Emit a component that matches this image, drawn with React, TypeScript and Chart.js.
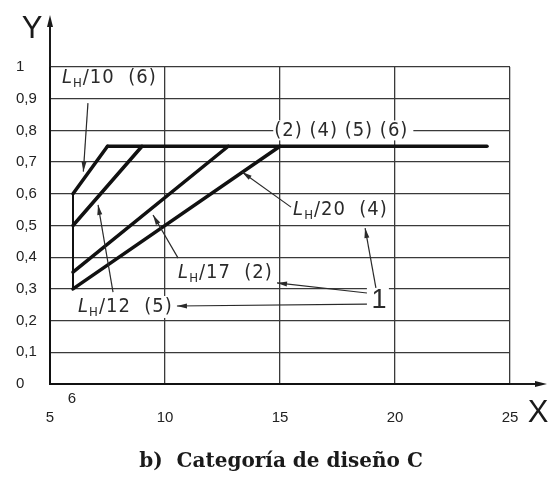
import React, { useEffect, useRef } from 'react';
import { Chart, registerables } from 'chart.js';

Chart.register(...registerables);

// ---- data ----
const xTickValues = [5, 10, 15, 20, 25];
const line10 = [{ x: 6, y: 0.6 }, { x: 7.5, y: 0.75 }];
const line12 = [{ x: 6, y: 0.5 }, { x: 9, y: 0.75 }];
const line17 = [{ x: 6, y: 0.353 }, { x: 12.75, y: 0.75 }];
const line20 = [{ x: 6, y: 0.3 }, { x: 15, y: 0.75 }];
const limitLine = [{ x: 7.5, y: 0.75 }, { x: 24, y: 0.75 }];
const edgeLine = [{ x: 6, y: 0.3 }, { x: 6, y: 0.6 }];

// annotation labels (data coordinates, left/middle anchored)
const ratioLabels = [
  { sub: 'H', rest: '/10  (6)', x: 5.52, y: 0.965, bg: false },
  { sub: 'H', rest: '/20  (4)', x: 15.57, y: 0.549, bg: false },
  { sub: 'H', rest: '/17  (2)', x: 10.57, y: 0.35, bg: false },
  { sub: 'H', rest: '/12  (5)', x: 6.22, y: 0.243, bg: true },
];
const categoryLabel = { text: '(2) (4) (5) (6)', x: 14.75, y: 0.8 };
const keyLabel = { text: '1', x: 19.3, y: 0.265 };
const arrows = [
  { from: [6.65, 0.886], to: [6.45, 0.67] },
  { from: [15.48, 0.558], to: [13.35, 0.669] },
  { from: [10.57, 0.397], to: [9.48, 0.533] },
  { from: [7.74, 0.29], to: [7.09, 0.565] },
  { from: [19.17, 0.303], to: [18.7, 0.492] },
  { from: [18.78, 0.287], to: [14.87, 0.319] },
  { from: [18.78, 0.252], to: [10.52, 0.246] },
];
const titleText = 'b)  Categoría de diseño C';

const F = '"DejaVu Sans Condensed", "Liberation Sans Narrow", "DejaVu Sans", sans-serif';
const TICK_FONT = '"Liberation Sans", Arial, sans-serif';

function arrowHead(ctx: CanvasRenderingContext2D, x1: number, y1: number, x2: number, y2: number, len: number, half: number) {
  const a = Math.atan2(y2 - y1, x2 - x1);
  ctx.beginPath();
  ctx.moveTo(x2, y2);
  ctx.lineTo(x2 - len * Math.cos(a) + half * Math.sin(a), y2 - len * Math.sin(a) - half * Math.cos(a));
  ctx.lineTo(x2 - len * Math.cos(a) - half * Math.sin(a), y2 - len * Math.sin(a) + half * Math.cos(a));
  ctx.closePath();
  ctx.fill();
}

const overlay = {
  id: 'overlay',
  afterDraw(chart: any) {
    const ctx: CanvasRenderingContext2D = chart.ctx;
    const { left, right, top, bottom } = chart.chartArea;
    const xs = chart.scales.x;
    const ys = chart.scales.y;
    ctx.save();
    ctx.fillStyle = '#1a1a1a';
    ctx.strokeStyle = '#1a1a1a';
    // axis extensions with arrows
    ctx.lineWidth = 2;
    ctx.beginPath();
    ctx.moveTo(left, top);
    ctx.lineTo(left, 22);
    ctx.moveTo(right, bottom);
    ctx.lineTo(540, bottom);
    ctx.stroke();
    arrowHead(ctx, left, 40, left, 15, 12, 3);
    arrowHead(ctx, 520, bottom, 547, bottom, 12, 3);
    // axis names
    ctx.font = `31px ${TICK_FONT}`;
    ctx.textAlign = 'center';
    ctx.textBaseline = 'middle';
    ctx.fillText('Y', 32, 29);
    ctx.fillText('X', 538, 413);
    ctx.font = `15px ${TICK_FONT}`;
    ctx.fillStyle = '#222';
    ctx.fillText('6', xs.getPixelForValue(6) - 1, 399);

    const drawRatio = (l: any) => {
      const px = xs.getPixelForValue(l.x);
      const py = ys.getPixelForValue(l.y);
      ctx.textAlign = 'left';
      ctx.textBaseline = 'middle';
      (ctx as any).letterSpacing = '1px';
      ctx.font = `italic 20px ${F}`;
      const w1 = ctx.measureText('L').width;
      ctx.font = `13px ${F}`;
      const w2 = ctx.measureText(l.sub).width;
      ctx.font = `20px ${F}`;
      const w3 = ctx.measureText(l.rest).width;
      if (l.bg) {
        ctx.fillStyle = '#ffffff';
        ctx.fillRect(px - 2, py - 11, w1 + w2 + w3 + 5, 22);
      }
      ctx.fillStyle = '#2a2a2a';
      ctx.font = `italic 20px ${F}`;
      ctx.fillText('L', px, py);
      ctx.font = `13px ${F}`;
      ctx.fillText(l.sub, px + w1, py + 6);
      ctx.font = `20px ${F}`;
      ctx.fillText(l.rest, px + w1 + w2, py);
      (ctx as any).letterSpacing = '0px';
    };
    ratioLabels.forEach(drawRatio);

    // category label over the 0.8 gridline
    {
      const px = xs.getPixelForValue(categoryLabel.x);
      const py = ys.getPixelForValue(categoryLabel.y);
      (ctx as any).letterSpacing = '1px';
      ctx.font = `20px ${F}`;
      const w = ctx.measureText(categoryLabel.text).width;
      ctx.fillStyle = '#ffffff';
      ctx.fillRect(px - 1, py - 10, w + 6, 20);
      ctx.fillStyle = '#2a2a2a';
      ctx.textAlign = 'left';
      ctx.textBaseline = 'middle';
      ctx.fillText(categoryLabel.text, px, py);
      (ctx as any).letterSpacing = '0px';
    }
    // key label "1"
    {
      const px = xs.getPixelForValue(keyLabel.x);
      const py = ys.getPixelForValue(keyLabel.y);
      ctx.fillStyle = '#ffffff';
      ctx.fillRect(px - 12, py - 16, 22, 32);
      ctx.fillStyle = '#2a2a2a';
      ctx.font = `27px ${TICK_FONT}`;
      ctx.textAlign = 'center';
      ctx.textBaseline = 'middle';
      ctx.fillText(keyLabel.text, px, py + 1);
    }
    // leader arrows
    ctx.strokeStyle = '#2a2a2a';
    ctx.fillStyle = '#2a2a2a';
    ctx.lineWidth = 1.2;
    arrows.forEach((a) => {
      const x1 = xs.getPixelForValue(a.from[0]);
      const y1 = ys.getPixelForValue(a.from[1]);
      const x2 = xs.getPixelForValue(a.to[0]);
      const y2 = ys.getPixelForValue(a.to[1]);
      ctx.beginPath();
      ctx.moveTo(x1, y1);
      ctx.lineTo(x2, y2);
      ctx.stroke();
      arrowHead(ctx, x1, y1, x2, y2, 10, 2.5);
    });

    // title
    ctx.fillStyle = '#1a1a1a';
    ctx.font = 'bold 20px "DejaVu Serif", serif';
    ctx.textAlign = 'center';
    ctx.textBaseline = 'middle';
    ctx.fillText(titleText, 281, 462);
    ctx.restore();
  },
};

const lineStyle = (data: any[], width: number) => ({
  data,
  showLine: true,
  borderColor: '#111111',
  backgroundColor: '#111111',
  borderWidth: width,
  pointRadius: 0,
  borderCapStyle: 'round' as const,
});

export default function App() {
  const ref = useRef<HTMLCanvasElement | null>(null);
  useEffect(() => {
    document.body.style.margin = '0';
    const canvas = ref.current!;
    const chart = new Chart(canvas, {
      type: 'scatter',
      data: {
        datasets: [
          lineStyle(edgeLine, 2),
          lineStyle(line10, 3.5),
          lineStyle(line12, 3.5),
          lineStyle(line17, 3.5),
          lineStyle(line20, 3.5),
          lineStyle(limitLine, 3.5),
        ],
      },
      options: {
        animation: false,
        responsive: false,
        devicePixelRatio: 1,
        layout: { padding: { top: 67, left: 16, right: 40, bottom: 0 } },
        plugins: { legend: { display: false }, tooltip: { enabled: false }, title: { display: false } },
        scales: {
          x: {
            type: 'linear',
            min: 5,
            max: 25,
            afterBuildTicks: (s: any) => {
              s.ticks = xTickValues.map((v) => ({ value: v }));
            },
            afterFit: (s: any) => {
              s.height = 101;
            },
            grid: { color: '#3a3a3a', lineWidth: 1.3, drawTicks: false },
            border: { display: true, color: '#111', width: 2 },
            ticks: {
              padding: 25,
              color: '#222',
              font: { family: TICK_FONT, size: 15 },
              maxRotation: 0,
              callback: (v: any) => String(v),
            },
          },
          y: {
            type: 'linear',
            min: 0,
            max: 1,
            afterFit: (s: any) => {
              s.width = 34;
            },
            grid: { color: '#3a3a3a', lineWidth: 1.3, drawTicks: false },
            border: { display: true, color: '#111', width: 2 },
            ticks: {
              stepSize: 0.1,
              crossAlign: 'far',
              color: '#222',
              font: { family: TICK_FONT, size: 15 },
              callback: (v: any) => String(Number(Number(v).toFixed(1))).replace('.', ','),
            },
          },
        },
      },
      plugins: [overlay],
    });
    return () => chart.destroy();
  }, []);
  return (
    <div style={{ width: 550, height: 485, background: '#fff' }}>
      <canvas ref={ref} width={550} height={485} style={{ display: 'block' }} />
    </div>
  );
}
